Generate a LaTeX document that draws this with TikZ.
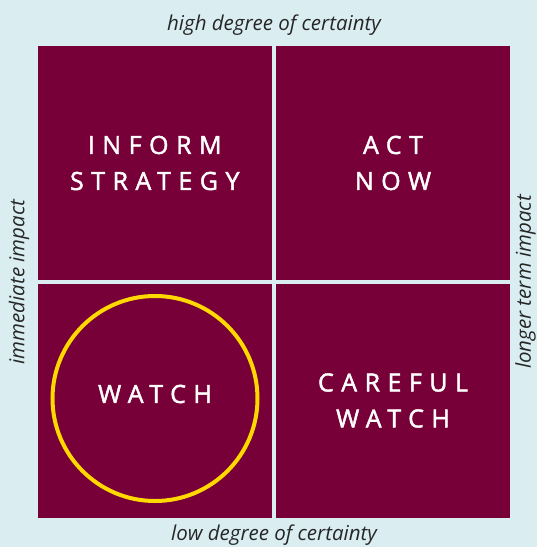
\documentclass[tikz,border=0pt]{standalone}
\usepackage{fontspec}
\setmainfont{Open Sans}
\newfontfamily\capsfont[LetterSpace=30,FakeBold=1.8]{Open Sans}
\usetikzlibrary{positioning}
\definecolor{maroon}{HTML}{780038}
\definecolor{paleblue}{HTML}{DAEEF2}
\definecolor{gold}{HTML}{FFD800}

\begin{document}
\begin{tikzpicture}[x=1pt,y=-1pt,
		quad/.style={fill=maroon,minimum width=233.5pt,minimum height=234pt,inner sep=0pt,outer sep=0pt},
		label/.style={text=white,align=center,font=\capsfont\fontsize{25}{36}\selectfont},
		axis/.style={font=\itshape\fontsize{20.5}{22}\selectfont,text=black!85,inner sep=0pt}
		]
		% background
		\fill[paleblue] (0,0) rectangle (537,547);
		\useasboundingbox (0,0) rectangle (537,547);
		
		% quadrants
		\node[quad] (inform) at (154.75,163) {};
		\node[quad] (act) at (393,163) {};
		\node[quad] (watch) at (154.75,400.5) {};
		\node[quad] (careful) at (393,400.5) {};
		
		\node[label] at (inform) {INFORM\\STRATEGY};
		\node[label] at (act) {ACT\\NOW};
		\node[label] at (careful) {CAREFUL\\WATCH};
		\node[label] (w) at (155,394) {WATCH};
		
		% highlight
		\node[draw=gold,line width=4pt,circle,minimum size=205pt] (ring) at (155,398.5) {};
		
		% axis texts
		\node[axis] (high) at (274,25) {high degree of certainty};
		\node[axis] (low) at (274,535) {low degree of certainty};
		\node[axis,rotate=90] (now) at (19,282) {immediate impact};
		\node[axis,rotate=90] (later) at (525.5,282) {longer term impact};
	\end{tikzpicture}
\end{document}
